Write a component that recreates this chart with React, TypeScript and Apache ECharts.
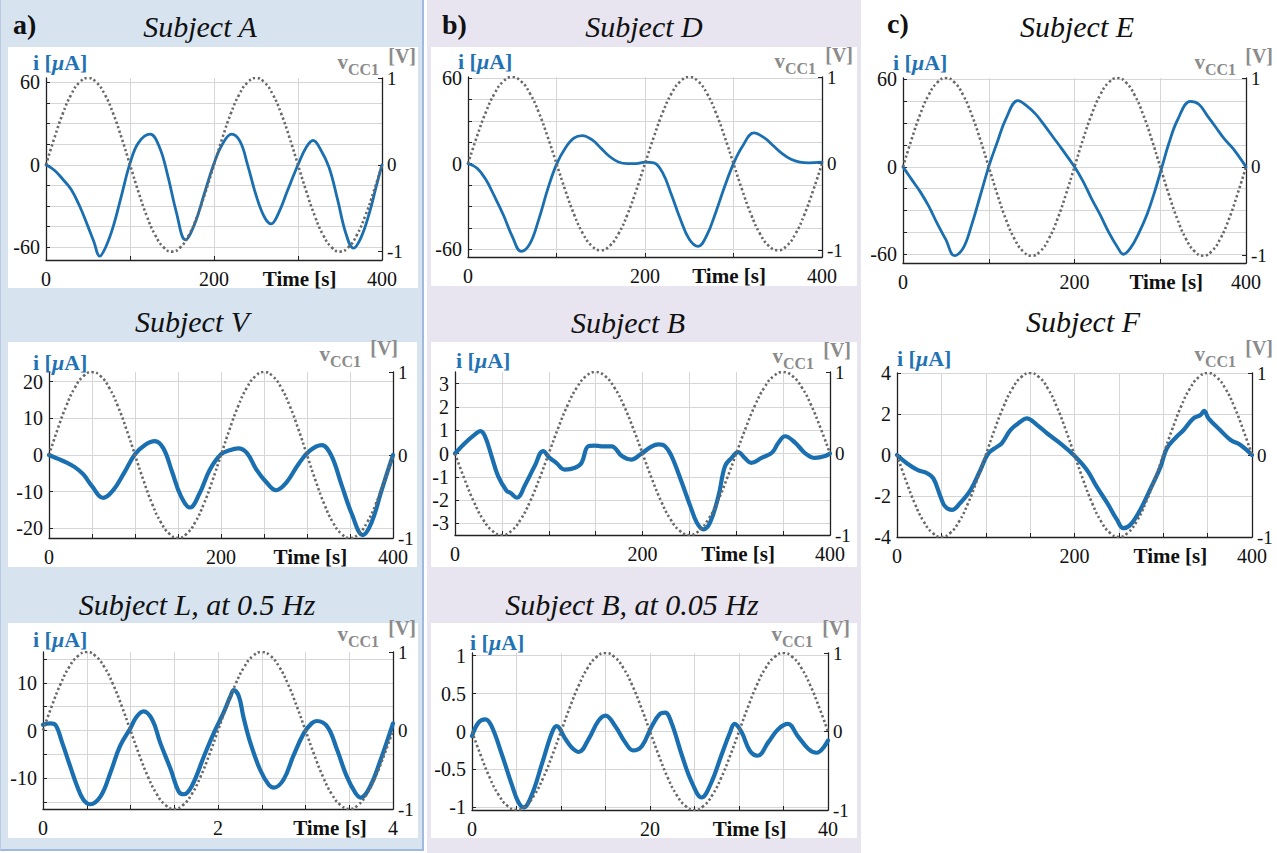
import React, { useEffect, useRef } from "react";
import * as echarts from "echarts";

// ---------------- DATA ----------------
// Reference excitation v_CC1 (two periods, 41 samples over the time span)
const VCC_RISING = [0, 0.31, 0.59, 0.81, 0.95, 1, 0.95, 0.81, 0.59, 0.31, 0, -0.31, -0.59, -0.81, -0.95, -1, -0.95, -0.81, -0.59, -0.31, 0, 0.31, 0.59, 0.81, 0.95, 1, 0.95, 0.81, 0.59, 0.31, 0, -0.31, -0.59, -0.81, -0.95, -1, -0.95, -0.81, -0.59, -0.31, 0];
const VCC_FALLING = [0, -0.31, -0.59, -0.81, -0.95, -1, -0.95, -0.81, -0.59, -0.31, 0, 0.31, 0.59, 0.81, 0.95, 1, 0.95, 0.81, 0.59, 0.31, 0, -0.31, -0.59, -0.81, -0.95, -1, -0.95, -0.81, -0.59, -0.31, 0, 0.31, 0.59, 0.81, 0.95, 1, 0.95, 0.81, 0.59, 0.31, 0];

// Subject A (a, top)
const A_T = [0, 10, 20, 30, 40, 50, 57, 64, 71, 80, 90, 100, 110, 124, 135, 145, 155, 166, 177, 188, 200, 210, 221, 231, 240, 250, 260, 268, 277, 288, 300, 310, 318, 327, 337, 347, 357, 366, 375, 385, 393, 400];
const A_I = [0, -4, -10.5, -18, -30, -45, -56, -66.5, -60, -45, -22, 1, 16, 22.3, 13, -8, -34, -54.6, -43, -22, 1, 15, 22.3, 17, 0, -22, -38, -43, -35, -18, 0, 13, 17.7, 11, -2, -25, -50, -60.7, -53, -35, -16, 0];
// Subject V (a, middle)
const V_T = [0, 10, 20, 30, 40, 50, 63, 75, 87, 100, 112, 123, 133, 143, 153, 164, 175, 187, 200, 210, 220, 230, 241, 253, 264, 276, 290, 303, 317, 328, 340, 352, 365, 375, 386, 393, 400];
const V_I = [0, -1, -2, -3.3, -5.3, -8.5, -11.7, -9.5, -5, 0.2, 2.8, 3.8, 1.8, -4.5, -11, -14.3, -10.5, -4, 0.2, 1.3, 1.8, 0.6, -3.9, -7.5, -9.6, -7.5, -2.5, 1.1, 2.7, 0, -8, -16, -21.8, -18.4, -10.2, -5, 0];
// Subject L, 0.5 Hz (a, bottom)
const L_T = [0, 0.08, 0.14, 0.22, 0.31, 0.39, 0.46, 0.54, 0.66, 0.77, 0.88, 1.0, 1.07, 1.15, 1.25, 1.34, 1.46, 1.55, 1.61, 1.7, 1.84, 1.95, 2.06, 2.14, 2.18, 2.24, 2.29, 2.37, 2.48, 2.58, 2.64, 2.75, 2.86, 2.98, 3.07, 3.13, 3.25, 3.36, 3.47, 3.57, 3.63, 3.74, 3.86, 3.95, 4.0];
const L_I = [1.2, 1.5, 1.2, -2.6, -7.5, -11.7, -14.5, -15.5, -13.8, -8.9, -3.3, 0.5, 2.9, 4, 2.2, -2.6, -8.2, -12.8, -13.4, -11.7, -5.4, -0.6, 3.6, 7.1, 8.5, 7.1, 2.9, -2.6, -8.2, -11.4, -12, -10.3, -5.4, -0.6, 1.5, 2, 0.8, -4, -9.6, -13.1, -14.1, -11.7, -6.1, -1.3, 1.5];
// Subject D (b, top)
const D_T = [0, 10, 20, 30, 40, 50, 60, 70, 80, 90, 100, 110, 120, 129, 140, 150, 160, 170, 180, 190, 200, 210, 220, 230, 240, 250, 260, 270, 280, 290, 300, 310, 323, 335, 345, 355, 365, 375, 385, 400];
const D_I = [0, -3, -11, -23, -36, -51, -61.4, -56, -39, -18, -0.5, 11, 18, 19.6, 16.8, 11, 5, 1.2, 0, 0, 1, 0.5, -6.5, -22, -39, -53, -58, -50, -34, -16, 0, 12, 21.5, 18, 12.5, 7, 3, 1, 0.5, 1];
// Subject B (b, middle)
const B_T = [0, 11, 21, 27, 32, 39, 46, 55, 59, 66, 75, 85, 94, 101, 108, 117, 128, 135, 142, 149, 156, 167, 178, 188, 199, 210, 217, 224, 231, 242, 251, 258, 265, 272, 281, 288, 295, 302, 309, 316, 327, 338, 345, 352, 363, 373, 384, 395, 400];
const B_I = [0, 0.46, 0.81, 0.96, 0.74, -0.11, -0.97, -1.6, -1.69, -1.9, -1.33, -0.54, 0.1, -0.19, -0.4, -0.69, -0.61, -0.4, 0.31, 0.34, 0.31, 0.31, -0.11, -0.26, 0, 0.31, 0.39, 0.31, -0.11, -1.26, -2.26, -2.97, -3.26, -2.97, -1.83, -0.54, -0.19, 0.06, -0.19, -0.4, -0.19, 0.03, 0.46, 0.74, 0.46, 0.03, -0.19, -0.11, 0];
// Subject B, 0.05 Hz (b, bottom)
const B05_T = [0, 0.75, 1.5, 2.2, 3.4, 4.5, 5.2, 5.8, 6.7, 7.9, 9.0, 9.5, 10.5, 11.2, 12.0, 13.1, 14.2, 15.0, 16.1, 17.2, 18.1, 19.1, 20.2, 21.1, 21.7, 22.4, 23.6, 24.7, 25.8, 26.9, 28.0, 29.0, 29.5, 30.3, 31.2, 32.1, 33.3, 34.4, 35.5, 36.6, 37.8, 38.7, 40];
const B05_I = [-0.06, 0.12, 0.16, 0.07, -0.32, -0.71, -0.93, -1.0, -0.84, -0.41, -0.01, 0.07, -0.1, -0.21, -0.27, -0.1, 0.14, 0.21, 0.07, -0.14, -0.25, -0.19, 0.07, 0.23, 0.25, 0.12, -0.32, -0.67, -0.87, -0.67, -0.32, -0.01, 0.1, -0.01, -0.25, -0.32, -0.14, 0.03, 0.1, -0.06, -0.23, -0.28, -0.12];
// Subject E (c, top)
const E_T = [0, 10, 20, 30, 40, 50, 60, 70, 80, 90, 101, 110, 120, 134, 145, 155, 165, 175, 185, 200, 210, 220, 230, 240, 250, 257, 265, 275, 285, 293, 302, 310, 320, 335, 345, 355, 365, 375, 385, 400];
const E_I = [0, -8.6, -17, -27, -39, -50, -61, -56, -40, -20, 2, 17, 33, 45.5, 41.5, 36, 28.5, 20.5, 12.5, 0, -10, -22, -33, -45, -55, -60, -56, -45.5, -32, -18, 0, 16, 32, 45, 43, 35, 27, 19, 12.5, 0];
// Subject F (c, middle)
const F_T = [0, 11, 23, 34, 41, 49, 54, 62, 71, 83, 94, 103, 113, 118, 128, 139, 146, 158, 169, 184, 199, 214, 225, 237, 248, 255, 263, 274, 285, 297, 304, 315, 323, 334, 342, 346, 351, 364, 376, 387, 400];
const F_I = [0, -0.4, -0.73, -0.89, -1.14, -2.03, -2.5, -2.68, -2.35, -1.7, -0.73, 0.08, 0.41, 0.57, 1.22, 1.62, 1.79, 1.46, 1.06, 0.57, 0, -0.73, -1.54, -2.35, -3.17, -3.57, -3.4, -2.68, -1.7, -0.57, 0.32, 0.89, 1.22, 1.79, 1.95, 2.15, 1.79, 1.22, 0.73, 0.49, 0];

// Tick labels and grid values
const I_TICKS_60 = [-60, 0, 60];
const I_GRID_60 = [-60, -45, -30, -15, 0, 15, 30, 45, 60];
const I_TICKS_20 = [-20, -10, 0, 10, 20];
const I_TICKS_10 = [-10, 0, 10];
const I_GRID_10 = [-15, -10, -5, 0, 5, 10, 15];
const I_TICKS_3 = [-3, -2, -1, 0, 1, 2, 3];
const I_TICKS_1 = [-1, -0.5, 0, 0.5, 1];
const I_TICKS_4 = [-4, -2, 0, 2, 4];
const V_TICKS = [-1, 0, 1];
const X_TICKS_400 = [0, 200, 400];
const X_TICKS_4 = [0, 2, 4];
const X_TICKS_40 = [0, 20, 40];
const X_GRID_100 = [0, 100, 200, 300, 400];
const X_GRID_50 = [0, 50, 100, 150, 200, 250, 300, 350, 400];
const X_GRID_4 = [0, 0.5, 1, 1.5, 2, 2.5, 3, 3.5, 4];
const X_GRID_40 = [0, 5, 10, 15, 20, 25, 30, 35, 40];

// ---------------- STYLE / LAYOUT ----------------
const FONT = "'Liberation Serif', 'Times New Roman', serif";
const BLUE = "#1a6fb1";
const BLUE_TEXT = "#1f73b5";
const DOT = "#686868";
const GREY_TEXT = "#8b8b8b";

type Panel = {
  title: string;
  tag?: string;
  tagXY?: [number, number];
  span: number;
  t: number[];
  i: number[];
  vcc: number[];
  iMin: number;
  iMax: number;
  vMax: number;
  iTicks: number[];
  iGrid: number[];
  xTicks: number[];
  xGrid: number[];
  timeAt: number;
  lw: number;
  box?: [number, number, number, number];
  plot: [number, number, number, number];
  titleXY: [number, number];
  iLab: [number, number];
  vLab: [number, number];
};

const PANELS: Panel[] = [
  { title: "Subject A", tag: "a)", tagXY: [13, 24], span: 400, t: A_T, i: A_I, vcc: VCC_RISING, iMin: -69.3, iMax: 63.2, vMax: 1,
    iTicks: I_TICKS_60, iGrid: I_GRID_60, xTicks: X_TICKS_400, xGrid: X_GRID_100, timeAt: 302, lw: 2.8,
    box: [8, 47, 410, 241], plot: [46, 78, 336, 182], titleXY: [200, 26], iLab: [33, 62], vLab: [416, 62] },
  { title: "Subject V", span: 400, t: V_T, i: V_I, vcc: VCC_RISING, iMin: -22.6, iMax: 22.6, vMax: 1,
    iTicks: I_TICKS_20, iGrid: I_TICKS_20, xTicks: X_TICKS_400, xGrid: X_GRID_50, timeAt: 304, lw: 4.2,
    box: [8, 342, 409, 225], plot: [49, 372, 344, 166], titleXY: [192, 321], iLab: [33, 362], vLab: [398, 354] },
  { title: "Subject L, at 0.5 Hz", span: 4, t: L_T, i: L_I, vcc: VCC_RISING, iMin: -16.5, iMax: 16.5, vMax: 1,
    iTicks: I_TICKS_10, iGrid: I_GRID_10, xTicks: X_TICKS_4, xGrid: X_GRID_4, timeAt: 3.28, lw: 4.2,
    box: [8, 623, 410, 215], plot: [43, 652, 350, 157], titleXY: [197, 604], iLab: [33, 639], vLab: [416, 634] },
  { title: "Subject D", tag: "b)", tagXY: [442, 24], span: 400, t: D_T, i: D_I, vcc: VCC_RISING, iMin: -65.4, iMax: 60.7, vMax: 1,
    iTicks: I_TICKS_60, iGrid: I_GRID_60, xTicks: X_TICKS_400, xGrid: X_GRID_100, timeAt: 295, lw: 2.8,
    box: [431, 47, 426, 239], plot: [468, 77, 354, 180], titleXY: [644, 26], iLab: [458, 61], vLab: [853, 61] },
  { title: "Subject B", span: 400, t: B_T, i: B_I, vcc: VCC_FALLING, iMin: -3.5, iMax: 3.5, vMax: 1,
    iTicks: I_TICKS_3, iGrid: I_TICKS_3, xTicks: X_TICKS_400, xGrid: X_GRID_50, timeAt: 302, lw: 4.2,
    box: [431, 342, 426, 225], plot: [455, 372, 375, 163], titleXY: [628, 322], iLab: [456, 360], vLab: [851, 356] },
  { title: "Subject B, at 0.05 Hz", span: 40, t: B05_T, i: B05_I, vcc: VCC_FALLING, iMin: -1.035, iMax: 1.035, vMax: 1,
    iTicks: I_TICKS_1, iGrid: I_TICKS_1, xTicks: X_TICKS_40, xGrid: X_GRID_40, timeAt: 31.2, lw: 4.2,
    box: [431, 623, 426, 215], plot: [472, 653, 356, 157], titleXY: [632, 604], iLab: [470, 642], vLab: [850, 634] },
  { title: "Subject E", tag: "c)", tagXY: [887, 23], span: 400, t: E_T, i: E_I, vcc: VCC_RISING, iMin: -66, iMax: 61, vMax: 1,
    iTicks: I_TICKS_60, iGrid: I_GRID_60, xTicks: X_TICKS_400, xGrid: X_GRID_100, timeAt: 307, lw: 2.8,
    plot: [903, 78, 343, 185], titleXY: [1077, 26], iLab: [893, 62], vLab: [1273, 62] },
  { title: "Subject F", span: 400, t: F_T, i: F_I, vcc: VCC_FALLING, iMin: -4, iMax: 4, vMax: 1,
    iTicks: I_TICKS_4, iGrid: I_TICKS_4, xTicks: X_TICKS_400, xGrid: X_GRID_50, timeAt: 308, lw: 4.2,
    plot: [897, 373, 355, 164], titleXY: [1083, 321], iLab: [897, 358], vLab: [1273, 354] },
];

function buildOption() {
  const grid: any[] = [];
  const xAxis: any[] = [];
  const yAxis: any[] = [];
  const series: any[] = [];
  const graphic: any[] = [];

  const labelStyle = { color: "#111", fontSize: 20, fontFamily: FONT, lineHeight: 16 };
  const axisLine = { show: true, onZero: false, lineStyle: { color: "#222", width: 1.3 } };

  PANELS.forEach((p, k) => {
    const [left, top, width, height] = p.plot;
    grid.push({ left, top, width, height, containLabel: false, outerBoundsMode: "none", show: false });

    const timeAt = p.timeAt;
    xAxis.push({
      type: "value", gridIndex: k, min: 0, max: p.span,
      axisLine,
      axisTick: { show: true, inside: true, length: 4, customValues: p.xGrid, lineStyle: { color: "#222" } },
      axisLabel: {
        ...labelStyle, margin: 11, hideOverlap: false,
        customValues: [...p.xTicks, timeAt],
        formatter: (v: number) => (v === timeAt ? "{t|Time [s]}" : String(v)),
        rich: { t: { fontFamily: FONT, fontWeight: "bold", fontSize: 21, color: "#111", lineHeight: 16 } },
      },
      splitLine: { show: true, lineStyle: { color: "#d6d6d6", width: 1 } },
    });

    const vMin = (p.vMax * p.iMin) / p.iMax;
    yAxis.push({
      type: "value", gridIndex: k, position: "left", min: p.iMin, max: p.iMax,
      axisLine,
      axisTick: { show: true, inside: true, length: 4, customValues: p.iGrid, lineStyle: { color: "#222" } },
      axisLabel: { ...labelStyle, margin: 6, hideOverlap: false, customValues: p.iTicks },
      splitLine: { show: true, lineStyle: { color: "#d6d6d6", width: 1 } },
    });
    yAxis.push({
      type: "value", gridIndex: k, position: "right", min: vMin, max: p.vMax,
      axisLine,
      axisTick: { show: true, inside: true, length: 4, customValues: V_TICKS, lineStyle: { color: "#222" } },
      axisLabel: { ...labelStyle, fontSize: 19, lineHeight: 14, margin: 5, hideOverlap: false, customValues: V_TICKS },
      splitLine: { show: false },
    });

    series.push({
      type: "line", name: p.title + " i", xAxisIndex: k, yAxisIndex: 2 * k,
      data: p.t.map((x, j) => [x, p.i[j]]),
      smooth: 0.4, symbol: "none", showSymbol: false, z: 3,
      lineStyle: { color: BLUE, width: p.lw, cap: "round", join: "round" },
    });
    const step = p.span / (p.vcc.length - 1);
    series.push({
      type: "line", name: p.title + " vCC1", xAxisIndex: k, yAxisIndex: 2 * k + 1,
      data: p.vcc.map((v, j) => [j * step, v]),
      smooth: true, symbol: "none", showSymbol: false, z: 4,
      lineStyle: { color: DOT, width: 2.6, type: [2.3, 2.5], cap: "butt" },
    });

    graphic.push({
      type: "text", x: p.titleXY[0], y: p.titleXY[1], z: 10,
      style: { text: p.title, fontFamily: FONT, fontStyle: "italic", fontSize: 30, fill: "#111", align: "center", verticalAlign: "middle" },
    });
    if (p.tag && p.tagXY) {
      graphic.push({
        type: "text", x: p.tagXY[0], y: p.tagXY[1], z: 10,
        style: { text: p.tag, fontFamily: FONT, fontWeight: "bold", fontSize: 28, fill: "#111", align: "left", verticalAlign: "middle" },
      });
    }
    graphic.push({
      type: "text", x: p.iLab[0], y: p.iLab[1], z: 10,
      style: {
        text: "{b|i [}{m|μ}{b|A]}", align: "left", verticalAlign: "middle",
        rich: {
          b: { fontFamily: FONT, fontWeight: "bold", fontSize: 22, fill: BLUE_TEXT, lineHeight: 22 },
          m: { fontFamily: FONT, fontWeight: "bold", fontStyle: "italic", fontSize: 22, fill: BLUE_TEXT, lineHeight: 22 },
        },
      },
    });
    // v_CC1 with lowered subscript
    graphic.push({
      type: "text", x: p.vLab[0] - 37, y: p.vLab[1], z: 10,
      style: {
        text: "{v|v}{s|CC1}", align: "right", verticalAlign: "middle",
        rich: {
          v: { fontFamily: FONT, fontWeight: "bold", fontSize: 21, fill: GREY_TEXT, lineHeight: 22, verticalAlign: "middle" },
          s: { fontFamily: FONT, fontWeight: "bold", fontSize: 16, fill: GREY_TEXT, lineHeight: 12, padding: [14, 0, 0, 0], verticalAlign: "middle" },
        },
      },
    });
    graphic.push({
      type: "text", x: p.vLab[0], y: p.vLab[1] - 6, z: 10,
      style: { text: "[V]", fontFamily: FONT, fontWeight: "bold", fontSize: 20, fill: GREY_TEXT, lineHeight: 18, align: "right", verticalAlign: "middle" },
    });
  });

  return { animation: false, backgroundColor: "transparent", grid, xAxis, yAxis, series, graphic };
}

export default function App() {
  const ref = useRef<HTMLDivElement>(null);
  useEffect(() => {
    if (!ref.current) return;
    const chart = echarts.init(ref.current, undefined, { renderer: "svg" });
    chart.setOption(buildOption() as any);
    return () => chart.dispose();
  }, []);

  const boxes = PANELS.filter((p) => p.box).map((p) => p.box as [number, number, number, number]);

  return (
    <div style={{ position: "absolute", left: 0, top: 0, width: 1277, height: 853, background: "#ffffff", overflow: "hidden" }}>
      <div style={{ position: "absolute", left: 0, top: 0, width: 424, height: 851, boxSizing: "border-box", background: "#d7e4f0", border: "2px solid #9fbade", borderTop: "none", borderLeft: "1px solid #b9cbe4" }} />
      <div style={{ position: "absolute", left: 427, top: 0, width: 434, height: 853, background: "#e8e5f0" }} />
      {boxes.map((b, j) => (
        <div key={j} style={{ position: "absolute", left: b[0], top: b[1], width: b[2], height: b[3], background: "#ffffff" }} />
      ))}
      <div ref={ref} style={{ position: "absolute", left: 0, top: 0, width: 1277, height: 853 }} />
    </div>
  );
}
